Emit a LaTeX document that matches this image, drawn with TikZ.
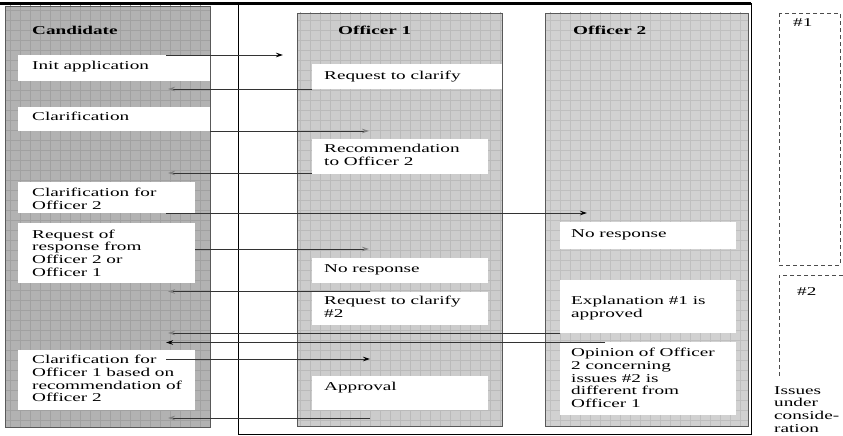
\documentclass[tikz,border=0pt]{standalone}
\usepackage{fontspec}
\setmainfont{Liberation Serif}[FakeStretch=1.6]
\usetikzlibrary{arrows.meta}
\begin{document}
\begin{tikzpicture}[x=1pt,y=-1pt,
  txt/.style={anchor=north west,yshift=8.82pt,inner sep=0pt,align=left,
    font=\fontsize{12}{12.6}\selectfont,execute at begin node=\strut},
  ttl/.style={anchor=base west,inner sep=0pt,font=\fontsize{12}{12.6}\selectfont\bfseries},
  wbox/.style={fill=white,draw=none,inner sep=0pt,anchor=north west},
  colframe/.style={draw=black!65,line width=0.9pt},
  gridline/.style={line width=0.5pt},
  flow/.style={draw=black!80,line width=0.8pt},
  hb/.style={flow,-{Stealth[length=7pt,width=4.5pt,color=black]}},
  hg/.style={flow,-{Stealth[length=7pt,width=4.5pt,color=black!50]}},
  dbox/.style={draw=black!70,line width=0.9pt,dash pattern=on 4pt off 3pt},
]
\useasboundingbox (0,0) rectangle (843,436);

% column fills with grid texture
\fill[black!30] (5,6) rectangle (210,427);
\begin{scope}
  \clip (5,6) rectangle (210,427);
  \draw[gridline,black!37,step=10pt] (0,0) grid (843,436);
\end{scope}
\fill[black!20] (297,13) rectangle (502,426);
\begin{scope}
  \clip (297,13) rectangle (502,426);
  \draw[gridline,black!27,step=10pt] (0,0) grid (843,436);
\end{scope}
\fill[black!18] (545,13) rectangle (748,426);
\begin{scope}
  \clip (545,13) rectangle (748,426);
  \draw[gridline,black!25,step=10pt] (0,0) grid (843,436);
\end{scope}

% frames
\draw[black,line width=0.9pt] (238,3.5) rectangle (751,434);
\draw[colframe] (5,6) rectangle (210,427);
\draw[colframe] (297,13) rectangle (502,426);
\draw[colframe] (545,13) rectangle (748,426);
\draw[black,line width=3pt] (0,3.5) -- (751,3.5);

% titles
\node[ttl] (tcand) at (32,35) {Candidate};
\node[ttl] (toff1) at (338,35) {Officer 1};
\node[ttl] (toff2) at (573,35) {Officer 2};

% candidate boxes
\node[wbox,minimum width=192pt,minimum height=26pt] (c1) at (18,55) {};
\node[wbox,minimum width=192pt,minimum height=24pt] (c2) at (18,107) {};
\node[wbox,minimum width=177pt,minimum height=31pt] (c3) at (18,182) {};
\node[wbox,minimum width=177pt,minimum height=60pt] (c4) at (18,223) {};
\node[wbox,minimum width=177pt,minimum height=60pt] (c5) at (18,350) {};
% officer 1 boxes
\node[wbox,minimum width=190pt,minimum height=25pt] (o1) at (312,64) {};
\node[wbox,minimum width=176pt,minimum height=35pt] (o2) at (312,139) {};
\node[wbox,minimum width=176pt,minimum height=25pt] (o3) at (312,258) {};
\node[wbox,minimum width=176pt,minimum height=33pt] (o4) at (312,292) {};
\node[wbox,minimum width=176pt,minimum height=34pt] (o5) at (312,376) {};
% officer 2 boxes
\node[wbox,minimum width=176pt,minimum height=27pt] (p1) at (560,222) {};
\node[wbox,minimum width=176pt,minimum height=53pt] (p2) at (560,280) {};
\node[wbox,minimum width=176pt,minimum height=73pt] (p3) at (560,342) {};

% texts (positions are first-line baselines)
\node[txt] (c1t) at (32,69.5) {Init application};
\node[txt] (c2t) at (32,120) {Clarification};
\node[txt] (c3t) at (32,197) {Clarification for\\Officer 2};
\node[txt] (c4t) at (32,238.5) {Request of\\response from\\Officer 2 or\\Officer 1};
\node[txt] (c5t) at (32,364) {Clarification for\\Officer 1 based on\\recommendation of\\Officer 2};
\node[txt] (o1t) at (324,79) {Request to clarify};
\node[txt] (o2t) at (324,153) {Recommendation\\to Officer 2};
\node[txt] (o3t) at (324,272) {No response};
\node[txt] (o4t) at (324,305) {Request to clarify\\\#2};
\node[txt] (o5t) at (324,390) {Approval};
\node[txt] (p1t) at (571,237) {No response};
\node[txt] (p2t) at (571,305) {Explanation \#1 is\\approved};
\node[txt] (p3t) at (571,357) {Opinion of Officer\\2 concerning\\issues \#2 is\\different from\\Officer 1};

% issues under consideration
\draw[dbox] (779,13) rectangle (840,265);
\draw[dbox] (843,275) -- (779,275) -- (779,376);
\node[txt] (i1) at (793,26) {\#1};
\node[txt] (i2) at (797,295) {\#2};
\node[txt] (iss) at (774,395) {Issues\\under\\conside-\\ration};

% connector end points
\coordinate (a1s) at (166,55);  \coordinate (a1e) at (283,55);
\coordinate (a2s) at (312,89);  \coordinate (a2e) at (168,89);
\coordinate (a3s) at (210,131); \coordinate (a3e) at (369,131);
\coordinate (a4s) at (312,173); \coordinate (a4e) at (168,173);
\coordinate (a5s) at (166,213); \coordinate (a5e) at (587,213);
\coordinate (a6s) at (195,249); \coordinate (a6e) at (369,249);
\coordinate (a7s) at (370,291.5); \coordinate (a7e) at (168,291.5);
\coordinate (a8s) at (560,333); \coordinate (a8e) at (168,333);
\coordinate (a9s) at (605,342.5); \coordinate (a9e) at (166,342.5);
\coordinate (a10s) at (166,359); \coordinate (a10e) at (370,359);
\coordinate (a11s) at (370,418); \coordinate (a11e) at (168,418);

\draw[hb] (a1s) -- (a1e);
\draw[hg] (a2s) -- (a2e);
\draw[hg] (a3s) -- (a3e);
\draw[hg] (a4s) -- (a4e);
\draw[hb] (a5s) -- (a5e);
\draw[hg] (a6s) -- (a6e);
\draw[hg] (a7s) -- (a7e);
\draw[hg] (a8s) -- (a8e);
\draw[hb] (a9s) -- (a9e);
\draw[hb] (a10s) -- (a10e);
\draw[hg] (a11s) -- (a11e);
\end{tikzpicture}
\end{document}
